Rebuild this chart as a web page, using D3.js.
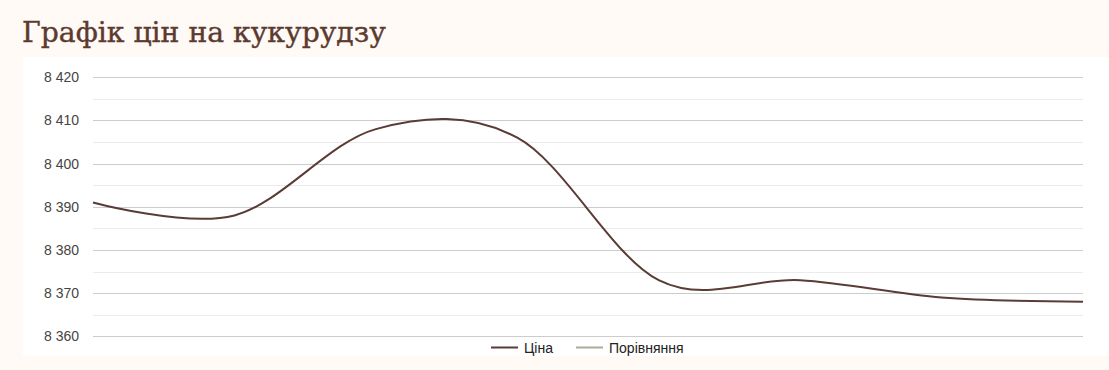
<!DOCTYPE html>
<html><head><meta charset="utf-8">
<script src="https://cdn.jsdelivr.net/npm/d3@7/dist/d3.min.js"></script>
<style>
html,body{margin:0;padding:0;background:#fffaf6;}
svg{display:block;}
</style></head>
<body>
<svg id="c" width="1109" height="370"></svg>
<script>
const title = "Графік цін на кукурудзу";
const categories = ["1","2","3","4","5","6","7","8"];
const priceValues = [8391, 8388, 8408, 8406, 8373, 8373, 8369, 8368];
const compareValues = [];
const seriesNames = ["Ціна", "Порівняння"];
const seriesColors = ["#5b3b35", "#a9ab96"];
const yTicks = [8360, 8370, 8380, 8390, 8400, 8410, 8420];
const yMinorTicks = [8365, 8375, 8385, 8395, 8405, 8415];

const svg = d3.select("#c");
svg.append("rect").attr("x",0).attr("y",0).attr("width",1109).attr("height",370).attr("fill","#fffaf6");
svg.append("rect").attr("x",23).attr("y",57).attr("width",1086).attr("height",299).attr("fill","#ffffff");

const t = svg.append("text").attr("x",22).attr("y",42)
  .attr("font-family","'DejaVu Serif', serif").attr("font-size",28)
  .attr("fill","#5c3a2f").attr("stroke","#5c3a2f").attr("stroke-width",0.4).text(title);
const tw = t.node().getComputedTextLength();
t.attr("font-size", 28*364/tw);

const x = d3.scalePoint().domain(categories).range([93,1083]);
const y = d3.scaleLinear().domain([8360,8420]).range([336.3,77.3]);

const g = svg.append("g");
g.selectAll("line.minor").data(yMinorTicks).join("line")
  .attr("x1",93).attr("x2",1083).attr("y1",d=>Math.round(y(d))+0.5).attr("y2",d=>Math.round(y(d))+0.5)
  .attr("stroke","#ebebeb").attr("stroke-width",1);

const yAxis = d3.axisLeft(y).tickValues(yTicks).tickSize(-990).tickPadding(14)
  .tickFormat(d => d3.format(",")(d).replace(/,/g," "));
const ga = g.append("g").attr("transform","translate(93,0)").call(yAxis);
ga.select(".domain").remove();
ga.selectAll(".tick line").attr("stroke","#cccccc").attr("stroke-width",1);
ga.selectAll(".tick").attr("transform", d => `translate(0,${Math.round(y(d))+0.5})`);
ga.selectAll(".tick text").attr("font-family","Arial, 'Liberation Sans', sans-serif")
  .attr("font-size",14).attr("fill","#444444").attr("x",-14);

const line = d3.line().x((d,i)=>x(categories[i])).y(d=>y(d)).curve(d3.curveCardinal.tension(0));
g.append("path").datum(priceValues).attr("d",line).attr("fill","none")
  .attr("stroke",seriesColors[0]).attr("stroke-width",2);
if (compareValues.length) {
  g.append("path").datum(compareValues).attr("d",line).attr("fill","none")
    .attr("stroke",seriesColors[1]).attr("stroke-width",2);
}

const legend = svg.append("g").attr("font-family","Arial, 'Liberation Sans', sans-serif").attr("font-size",14);
const lx = [491, 576];
seriesNames.forEach((n,i)=>{
  legend.append("line").attr("x1",lx[i]).attr("x2",lx[i]+27).attr("y1",347.5).attr("y2",347.5)
    .attr("stroke",seriesColors[i]).attr("stroke-width",2);
  legend.append("text").attr("x",lx[i]+33).attr("y",352.5).attr("fill","#222222").text(n);
});
</script>
</body></html>
